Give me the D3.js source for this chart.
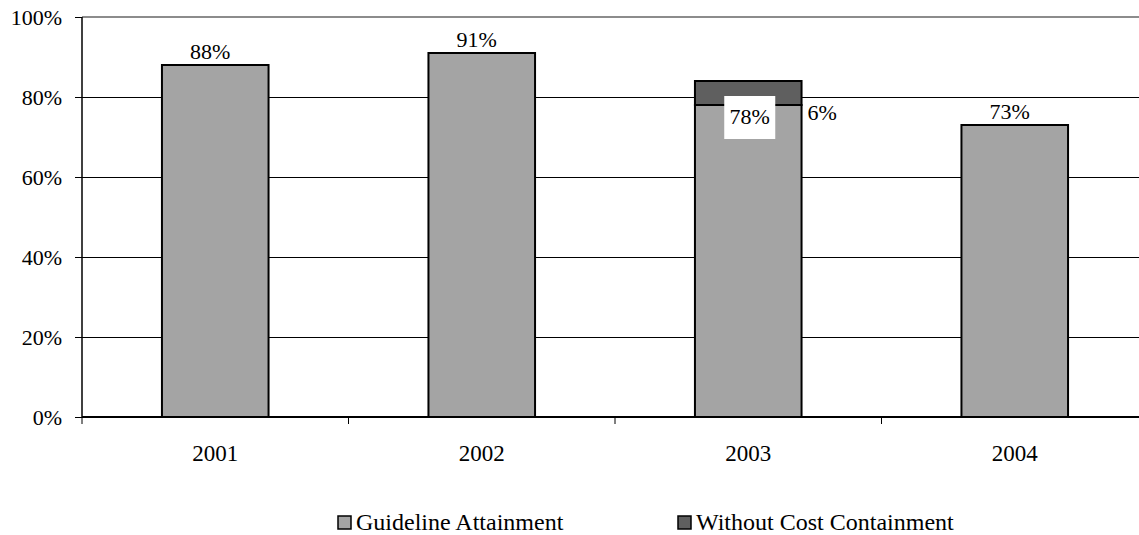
<!DOCTYPE html>
<html><head><meta charset="utf-8">
<script src="https://cdn.jsdelivr.net/npm/d3@7"></script>
<style>body{margin:0;background:#fff}svg{display:block}text{font-family:"Liberation Serif","Times New Roman",serif}</style>
</head><body>
<svg id="c" width="1139" height="535"></svg>
<script>
const years = ["2001","2002","2003","2004"];
const guideline = [88, 91, 78, 73];
const withoutCost = [0, 0, 6, 0];
const yTicks = [0, 20, 40, 60, 80, 100];
const seriesNames = ["Guideline Attainment", "Without Cost Containment"];
const colors = ["#a4a4a4", "#5f5f5f"];

const FONT = "Liberation Serif";
const FS = 22;
const svg = d3.select("#c");
const pL = 82, pR = 1148, pT = 17, pB = 417;
const x = d3.scaleBand().domain(years).range([pL, pR]).paddingInner(0.6).paddingOuter(0.3);
const y = d3.scaleLinear().domain([0, 100]).range([pB, pT]);

// gridlines
svg.append("g").selectAll("line").data(yTicks.filter(t => t > 0 && t < 100)).join("line")
  .attr("x1", pL).attr("x2", pR).attr("y1", d => y(d)).attr("y2", d => y(d))
  .attr("stroke", "#000").attr("stroke-width", 1).attr("shape-rendering", "crispEdges");
// top border
svg.append("line").attr("x1", pL).attr("x2", pR).attr("y1", y(100)).attr("y2", y(100))
  .attr("stroke", "#8c8c8c").attr("stroke-width", 2);

// bars
const stack = years.map((yr, i) => ({yr, g: guideline[i], w: withoutCost[i]}));
svg.append("g").selectAll("rect").data(stack).join("rect")
  .attr("x", d => x(d.yr)).attr("width", x.bandwidth())
  .attr("y", d => y(d.g)).attr("height", d => y(0) - y(d.g))
  .attr("fill", colors[0]).attr("stroke", "#000").attr("stroke-width", 2);
svg.append("g").selectAll("rect").data(stack.filter(d => d.w > 0)).join("rect")
  .attr("x", d => x(d.yr)).attr("width", x.bandwidth())
  .attr("y", d => y(d.g + d.w)).attr("height", d => y(d.g) - y(d.g + d.w))
  .attr("fill", colors[1]).attr("stroke", "#000").attr("stroke-width", 2);

// y axis
const ya = svg.append("g").attr("transform", `translate(${pL},0)`)
  .call(d3.axisLeft(y).tickValues(yTicks).tickFormat(d => d + "%").tickSize(7).tickPadding(13));
ya.attr("font-family", FONT).attr("font-size", FS);
ya.select(".domain").attr("stroke", "#000").attr("stroke-width", 1.5).attr("d", `M0,${pT}V${pB}`);
ya.selectAll(".tick line").attr("stroke", "#000");
ya.selectAll("text").attr("font-size", FS).attr("font-family", FONT).attr("fill", "#000");

// x axis
const xa = svg.append("g").attr("transform", `translate(0,${pB})`)
  .call(d3.axisBottom(x).tickSize(0).tickPadding(28));
xa.attr("font-family", FONT).attr("font-size", 23);
xa.select(".domain").attr("stroke", "#000").attr("stroke-width", 2).attr("d", `M${pL},0H${pR}`);
xa.selectAll("text").attr("font-size", 23).attr("font-family", FONT).attr("fill", "#000");
const bnd = d3.range(years.length + 1).map(i => pL + i * (pR - pL) / years.length);
svg.append("g").selectAll("line").data(bnd).join("line")
  .attr("x1", d => d).attr("x2", d => d).attr("y1", pB).attr("y2", pB + 7)
  .attr("stroke", "#000").attr("stroke-width", 1);

// value labels
const lab = svg.append("g").attr("font-family", FONT).attr("font-size", FS);
stack.forEach(d => {
  const cx = x(d.yr) + x.bandwidth() / 2;
  if (d.w > 0) {
    const tw = 51, th = 43;
    lab.append("rect").attr("x", cx + 1.5 - tw/2).attr("y", y(d.g) - 9).attr("width", tw).attr("height", th).attr("fill", "#fff");
    lab.append("text").attr("x", cx + 1.5).attr("y", y(d.g) + 19).attr("text-anchor", "middle")
      .attr("font-family", FONT).attr("font-size", FS).text(d.g + "%");
    lab.append("text").attr("x", x(d.yr) + x.bandwidth() + 6).attr("y", y(d.g) + 15)
      .attr("font-family", FONT).attr("font-size", FS).text(d.w + "%");
  } else {
    lab.append("text").attr("x", cx - 5).attr("y", y(d.g) - 6).attr("text-anchor", "middle")
      .attr("font-family", FONT).attr("font-size", FS).text(d.g + "%");
  }
});

// legend
const legX = [338, 678];
const leg = svg.append("g").attr("font-family", FONT).attr("font-size", 24);
seriesNames.forEach((n, i) => {
  leg.append("rect").attr("x", legX[i]).attr("y", 516).attr("width", 13).attr("height", 13)
    .attr("fill", colors[i]).attr("stroke", "#000").attr("stroke-width", 1.5);
  leg.append("text").attr("x", legX[i] + 18).attr("y", 530)
    .attr("font-family", FONT).attr("font-size", 24).text(n);
});
</script>
</body></html>
